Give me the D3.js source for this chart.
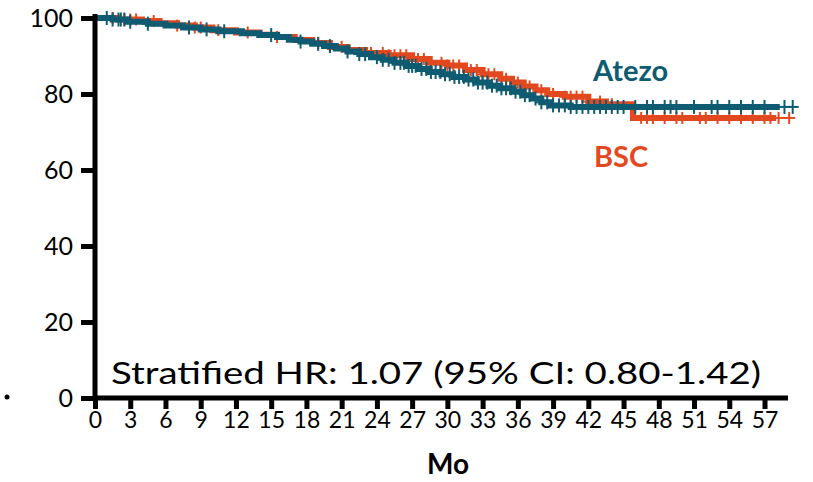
<!DOCTYPE html>
<html>
<head>
<meta charset="utf-8">
<script src="https://cdn.jsdelivr.net/npm/d3@7"></script>
<style>
  body { margin: 0; background: #fff; }
  text { font-family: Lato, "Open Sans", sans-serif; }
</style>
</head>
<body>
<div id="chart"></div>
<script>
// Kaplan-Meier steps (month, % event-free)
var atezoTime = [0, 1.5, 2.8, 4.5, 6, 7.5, 9, 10.5, 12.5, 14, 15.5, 16.5, 17.5, 18.5, 19.5, 20.5, 21.5, 22.5, 23.5, 24.5, 25.5, 26.5, 27.5, 28.5, 29.5, 30.5, 31.5, 32.5, 33.5, 34.5, 35.5, 36.5, 37.2, 38, 38.8, 40.5, 58.3];
var atezoSurv = [100, 99.6, 99.0, 98.5, 98.0, 97.5, 97.0, 96.5, 96.0, 95.5, 95.0, 94.3, 93.8, 93.2, 92.6, 92.0, 91.2, 90.5, 89.7, 89.0, 88.2, 87.4, 86.6, 85.8, 85.2, 84.5, 83.8, 83.0, 82.2, 81.5, 80.6, 79.7, 78.8, 77.8, 77.0, 76.6, 76.6];
var bscTime = [0, 2, 4, 5.5, 7, 8.5, 10, 12, 14, 15.5, 17, 18.5, 20, 21.5, 23, 25, 27, 28.5, 30, 31.5, 33, 34.5, 35.5, 36.5, 37.5, 38.5, 40, 42, 43.5, 45.8, 58];
var bscSurv = [100, 99.6, 99.2, 98.6, 98.0, 97.5, 96.8, 96.2, 95.6, 95.0, 94.2, 93.4, 92.4, 91.6, 90.8, 90.2, 89.2, 88.2, 87.5, 86.3, 85.2, 84.0, 83.0, 82.0, 81.0, 80.0, 79.3, 78.0, 77.3, 73.7, 73.7];
// censoring times
var atezoCens = [1, 1.5, 2, 2.2, 2.5, 3, 4.5, 8, 9.5, 11, 15, 17.5, 19, 20, 21.5, 22.5, 23, 24, 24.5, 25, 25.5, 26, 26.3, 26.7, 27, 27.3, 27.8, 28.2, 28.6, 29, 29.4, 29.8, 30.2, 30.6, 31, 31.4, 31.8, 32.2, 32.6, 33, 33.4, 33.8, 34.2, 34.6, 35, 35.4, 35.8, 36.2, 36.6, 37, 37.5, 38, 38.5, 39, 39.5, 40, 40.5, 41, 41.5, 42, 42.5, 43, 43.5, 44, 44.5, 45, 46, 47, 47.5, 48.5, 49, 49.5, 51, 52.5, 53, 54, 55, 56, 57, 58.7, 59.4];
var bscCens = [1.5, 2.5, 3, 3.5, 5, 7, 8.5, 9, 10.5, 13, 15.5, 19, 20, 21, 23.5, 24.5, 25, 25.5, 26, 26.5, 27, 27.5, 28, 29.5, 30, 30.5, 31, 32, 32.5, 33, 33.5, 34, 35, 36, 37, 38, 39, 40, 40.5, 41, 41.5, 42, 43, 44, 46.5, 47, 47.5, 48.5, 49.5, 50, 51.5, 52, 53, 54, 55, 56, 57, 57.5, 58.2, 59.1];
var xTicks = d3.range(0, 58, 3);
var yTicks = [0, 20, 40, 60, 80, 100];

var W = 813, H = 482;
var teal = "#0e5b72", orange = "#e2491f";

var svg = d3.select("#chart").append("svg")
	.attr("width", W)
	.attr("height", H);

var x = d3.scaleLinear().domain([0, 59]).range([95, 788]);
var y = d3.scaleLinear().domain([0, 100]).range([398, 18]);

// survival value at time t (step function)
function survAt(times, surv, t) {
	var i = d3.bisectRight(times, t) - 1;
	return surv[Math.max(0, i)];
}

var line = d3.line()
	.x(function(d) { return x(d[0]); })
	.y(function(d) { return y(d[1]); })
	.curve(d3.curveStepAfter);

function drawSeries(times, surv, cens, color, bar) {
	var pts = times.map(function(t, i) { return [t, surv[i]]; });
	svg.append("path")
		.datum(pts)
		.attr("fill", "none")
		.attr("stroke", color)
		.attr("stroke-width", 6)
		.attr("d", line);

	var g = svg.append("g");
	cens.forEach(function(t) {
		var cx = x(t), cy = y(survAt(times, surv, t));
		g.append("line")
			.attr("x1", cx).attr("x2", cx)
			.attr("y1", cy - bar).attr("y2", cy + bar)
			.attr("stroke", color).attr("stroke-width", 2);
		g.append("line")
			.attr("x1", cx - 6).attr("x2", cx + 6)
			.attr("y1", cy).attr("y2", cy)
			.attr("stroke", color).attr("stroke-width", 2);
	});
}

drawSeries(bscTime, bscSurv, bscCens, orange, 6);
drawSeries(atezoTime, atezoSurv, atezoCens, teal, 7);

// axes
var yAxis = svg.append("g")
	.attr("transform", "translate(95,0)")
	.call(d3.axisLeft(y).tickValues(yTicks).tickSize(14).tickPadding(8));
var xAxis = svg.append("g")
	.attr("transform", "translate(0,398)")
	.call(d3.axisBottom(x).tickValues(xTicks).tickSize(11).tickPadding(3));

[yAxis, xAxis].forEach(function(a) {
	a.select(".domain").attr("stroke", "#000").attr("stroke-width", 5);
	a.selectAll(".tick line").attr("stroke", "#000").attr("stroke-width", 5);
	a.selectAll(".tick text").attr("fill", "#000").style("font-family", "Lato, sans-serif");
});
yAxis.select(".domain").attr("d", "M0,14V398");
xAxis.select(".domain").attr("d", "M95,0H788");
yAxis.selectAll(".tick line").attr("x1", 0).attr("x2", -14);
yAxis.selectAll(".tick text").style("font-size", "25px").attr("dy", "0.35em");
xAxis.selectAll(".tick text").style("font-size", "23px");

// labels
svg.append("text").attr("x", 593).attr("y", 81)
	.attr("fill", teal).style("font-size", "29px").style("font-weight", "bold")
	.text("Atezo");
svg.append("text").attr("x", 594).attr("y", 167)
	.attr("fill", orange).style("font-size", "29px").style("font-weight", "bold")
	.text("BSC");
svg.append("text").attr("x", 111).attr("y", 384)
	.attr("fill", "#000").style("font-size", "31px")
	.attr("textLength", 650).attr("lengthAdjust", "spacingAndGlyphs")
	.text("Stratified HR: 1.07 (95% CI: 0.80-1.42)");
svg.append("text").attr("x", 448).attr("y", 474)
	.attr("text-anchor", "middle")
	.attr("fill", "#000").style("font-size", "28px").style("font-weight", "bold")
	.text("Mo");
svg.append("circle").attr("cx", 7).attr("cy", 397).attr("r", 2.5).attr("fill", "#000");
</script>
</body>
</html>
